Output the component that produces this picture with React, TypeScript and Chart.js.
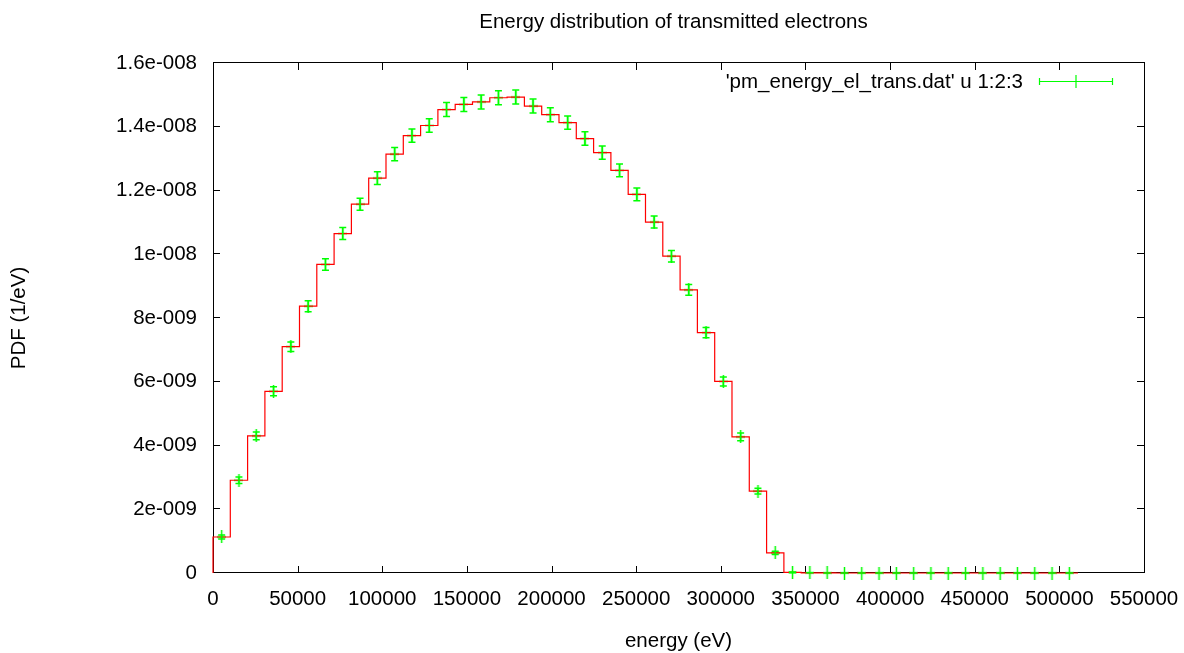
import React, { useEffect, useRef } from 'react';
import { Chart, registerables } from 'chart.js';

Chart.register(...registerables);

const chartTitle = 'Energy distribution of transmitted electrons';
const xAxisTitle = 'energy (eV)';
const yAxisTitle = 'PDF (1/eV)';
const seriesLabel = "'pm_energy_el_trans.dat' u 1:2:3";

const binWidth = 10220;

// bin centres (eV)
const energy = [
  5110, 15330, 25550, 35770, 45990, 56210, 66430, 76650, 86870, 97090,
  107310, 117530, 127750, 137970, 148190, 158410, 168630, 178850, 189070, 199290,
  209510, 219730, 229950, 240170, 250390, 260610, 270830, 281050, 291270, 301490,
  311710, 321930, 332150, 342370, 352590, 362810, 373030, 383250, 393470, 403690,
  413910, 424130, 434350, 444570, 454790, 465010, 475230, 485450, 495670, 505890,
];

// PDF (1/eV)
const pdf = [
  1.13e-9, 2.91e-9, 4.30e-9, 5.70e-9, 7.10e-9, 8.37e-9, 9.68e-9, 10.65e-9, 11.57e-9, 12.39e-9,
  13.14e-9, 13.72e-9, 14.04e-9, 14.54e-9, 14.70e-9, 14.78e-9, 14.91e-9, 14.93e-9, 14.65e-9, 14.38e-9,
  14.13e-9, 13.63e-9, 13.19e-9, 12.63e-9, 11.88e-9, 11.01e-9, 9.94e-9, 8.88e-9, 7.54e-9, 6.01e-9,
  4.27e-9, 2.57e-9, 0.63e-9, 0.02e-9, 0.006e-9, 0.002e-9, 0, 0, 0, 0,
  0, 0, 0, 0, 0, 0, 0, 0, 0, 0,
];

// error (1/eV)
const pdfError = [
  0.06e-9, 0.10e-9, 0.12e-9, 0.14e-9, 0.15e-9, 0.17e-9, 0.18e-9, 0.19e-9, 0.19e-9, 0.20e-9,
  0.21e-9, 0.21e-9, 0.21e-9, 0.22e-9, 0.22e-9, 0.22e-9, 0.22e-9, 0.22e-9, 0.22e-9, 0.22e-9,
  0.21e-9, 0.21e-9, 0.21e-9, 0.20e-9, 0.20e-9, 0.19e-9, 0.18e-9, 0.17e-9, 0.16e-9, 0.14e-9,
  0.12e-9, 0.09e-9, 0.05e-9, 0.01e-9, 0, 0, 0, 0, 0, 0,
  0, 0, 0, 0, 0, 0, 0, 0, 0, 0,
];

const xTicks = [0, 50000, 100000, 150000, 200000, 250000, 300000, 350000, 400000, 450000, 500000, 550000];
const yTicks = [0, 2e-9, 4e-9, 6e-9, 8e-9, 1e-8, 1.2e-8, 1.4e-8, 1.6e-8];
const yTickLabels = ['0', '2e-009', '4e-009', '6e-009', '8e-009', '1e-008', '1.2e-008', '1.4e-008', '1.6e-008'];

const FONT_FAMILY = '"Liberation Sans", Arial, Helvetica, sans-serif';
const FONT_SIZE = 20.5;
const RED = '#ff0000';
const GREEN = '#00ff00';

function makeCross(): HTMLCanvasElement {
  const c = document.createElement('canvas');
  c.width = 9;
  c.height = 13;
  const g = c.getContext('2d')!;
  g.strokeStyle = GREEN;
  g.lineWidth = 1.5;
  g.beginPath();
  g.moveTo(0, 6.5);
  g.lineTo(9, 6.5);
  g.moveTo(4.5, 0);
  g.lineTo(4.5, 13);
  g.stroke();
  return c;
}

const framePlugin = {
  id: 'gnuplotFrame',
  beforeDatasetsDraw(chart: any) {
    const { ctx, chartArea } = chart;
    const { left, right, top, bottom } = chartArea;
    const xs = chart.scales.x;
    const ys = chart.scales.y;
    const tick = 7;
    ctx.save();
    ctx.strokeStyle = '#000';
    ctx.lineWidth = 1;
    ctx.beginPath();
    xTicks.forEach((v) => {
      const px = Math.round(xs.getPixelForValue(v)) + 0.5;
      ctx.moveTo(px, bottom);
      ctx.lineTo(px, bottom - tick);
      ctx.moveTo(px, top);
      ctx.lineTo(px, top + tick);
    });
    yTicks.forEach((v) => {
      const py = Math.round(ys.getPixelForValue(v)) - 0.5;
      ctx.moveTo(left, py);
      ctx.lineTo(left + tick, py);
      ctx.moveTo(right, py);
      ctx.lineTo(right - tick, py);
    });
    ctx.stroke();
    ctx.strokeRect(left + 0.5, top - 0.5, right - left, bottom - top);
    ctx.restore();
  },
  afterDatasetsDraw(chart: any) {
    const { ctx, chartArea } = chart;
    const xs = chart.scales.x;
    const ys = chart.scales.y;
    const cap = 3.5;
    ctx.save();
    // error bars
    ctx.strokeStyle = GREEN;
    ctx.lineWidth = 1.5;
    ctx.beginPath();
    energy.forEach((e, i) => {
      const px = xs.getPixelForValue(e);
      const y1 = ys.getPixelForValue(pdf[i] + pdfError[i]);
      const y2 = ys.getPixelForValue(pdf[i] - pdfError[i]);
      ctx.moveTo(px, y1);
      ctx.lineTo(px, y2);
      ctx.moveTo(px - cap, y1);
      ctx.lineTo(px + cap, y1);
      ctx.moveTo(px - cap, y2);
      ctx.lineTo(px + cap, y2);
    });
    ctx.stroke();

    // texts
    ctx.fillStyle = '#000';
    ctx.font = `${FONT_SIZE}px ${FONT_FAMILY}`;
    ctx.textBaseline = 'alphabetic';
    ctx.textAlign = 'center';
    const cx = (chartArea.left + chartArea.right) / 2;
    ctx.fillText(chartTitle, cx - 5, 28);
    ctx.fillText(xAxisTitle, cx, 647);
    ctx.save();
    ctx.translate(25, (chartArea.top + chartArea.bottom) / 2);
    ctx.rotate(-Math.PI / 2);
    ctx.fillText(yAxisTitle, 0, 0);
    ctx.restore();

    // legend
    ctx.textAlign = 'right';
    ctx.fillText(seriesLabel, 1023, 87.5);
    const ly = 81.5;
    const lx1 = 1039.5;
    const lx2 = 1112.5;
    const lmid = 1076;
    ctx.strokeStyle = GREEN;
    ctx.lineWidth = 1.2;
    ctx.beginPath();
    ctx.moveTo(lx1, ly);
    ctx.lineTo(lx2, ly);
    ctx.moveTo(lx1, ly - 3.5);
    ctx.lineTo(lx1, ly + 3.5);
    ctx.moveTo(lx2, ly - 3.5);
    ctx.lineTo(lx2, ly + 3.5);
    ctx.moveTo(lmid, ly - 6.5);
    ctx.lineTo(lmid, ly + 6.5);
    ctx.stroke();
    ctx.restore();
  },
};

export default function App() {
  const canvasRef = useRef<HTMLCanvasElement | null>(null);

  useEffect(() => {
    const canvas = canvasRef.current;
    if (!canvas) return;
    const cross = makeCross();

    const stepData: { x: number; y: number }[] = [];
    stepData.push({ x: energy[0] - binWidth / 2, y: 0 });
    energy.forEach((e, i) => stepData.push({ x: e - binWidth / 2, y: pdf[i] }));
    stepData.push({ x: energy[energy.length - 1] + binWidth / 2, y: 0 });

    const chart = new Chart(canvas, {
      type: 'line',
      data: {
        datasets: [
          {
            type: 'line',
            label: 'histeps',
            data: stepData,
            stepped: 'before',
            borderColor: RED,
            borderWidth: 1.2,
            pointRadius: 0,
            fill: false,
            clip: false,
          } as any,
          {
            type: 'scatter',
            label: seriesLabel,
            data: energy.map((x, i) => ({ x, y: pdf[i] })),
            showLine: false,
            pointStyle: cross,
            pointRadius: 5,
            borderColor: GREEN,
            backgroundColor: GREEN,
            clip: false,
          } as any,
        ],
      },
      options: {
        animation: false,
        responsive: false,
        devicePixelRatio: 1,
        events: [],
        layout: { padding: { top: 63, right: 40, left: 0, bottom: 0 } },
        plugins: {
          legend: { display: false },
          title: { display: false },
          tooltip: { enabled: false },
        },
        scales: {
          x: {
            type: 'linear',
            min: 0,
            max: 550000,
            afterBuildTicks: (s: any) => {
              s.ticks = xTicks.map((v) => ({ value: v }));
            },
            afterFit: (s: any) => {
              s.height = 80;
              s.paddingLeft = 0;
              s.paddingRight = 30;
            },
            ticks: {
              callback: (v: any) => String(v),
              font: { family: FONT_FAMILY, size: FONT_SIZE },
              color: '#000',
              padding: 14,
              maxRotation: 0,
              autoSkip: false,
            },
            grid: { display: false, drawTicks: false },
            border: { display: false },
          },
          y: {
            type: 'linear',
            min: 0,
            max: 1.6e-8,
            afterBuildTicks: (s: any) => {
              s.ticks = yTicks.map((v) => ({ value: v }));
            },
            afterFit: (s: any) => {
              s.width = 213;
            },
            ticks: {
              callback: (_v: any, i: number) => yTickLabels[i],
              font: { family: FONT_FAMILY, size: FONT_SIZE },
              color: '#000',
              padding: 16,
              autoSkip: false,
            },
            grid: { display: false, drawTicks: false },
            border: { display: false },
          },
        },
      } as any,
      plugins: [framePlugin],
    });

    return () => chart.destroy();
  }, []);

  return (
    <div style={{ position: 'fixed', left: 0, top: 0, width: 1184, height: 653, background: '#fff' }}>
      <canvas ref={canvasRef} width={1184} height={653} style={{ width: 1184, height: 653 }} />
    </div>
  );
}
